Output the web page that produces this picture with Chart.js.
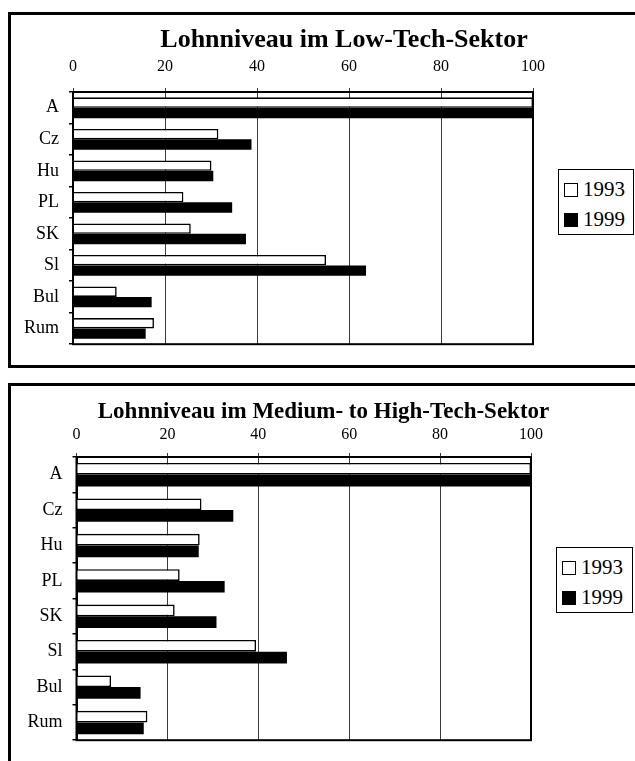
<!DOCTYPE html>
<html>
<head>
<meta charset="utf-8">
<script src="https://cdn.jsdelivr.net/npm/chart.js@4"></script>
<style>
  html, body { margin: 0; padding: 0; background: #fff; }
  body { width: 635px; height: 761px; overflow: hidden; position: relative; font-family: 'Liberation Serif', serif; }
  .frame { position: absolute; border: 3px solid #000; box-sizing: border-box; }
  .plot { position: absolute; }
  .legend { position: absolute; border: 1.5px solid #000; box-sizing: border-box; background: #fff; padding: 4px 0 0 5px; }
  .legend div { height: 30px; line-height: 30px; font-size: 21px; color: #000; white-space: nowrap; }
  .legend span { display: inline-block; width: 14px; height: 14px; box-sizing: border-box; border: 1.5px solid #000; margin-right: 5px; vertical-align: -1px; }
</style>
</head>
<body>
<div class="frame" style="left:8px;top:12px;width:700px;height:356px;"></div>
<div class="frame" style="left:8px;top:383px;width:700px;height:500px;"></div>
<div class="plot" style="left:12px;top:15px;width:664px;height:350px;"><canvas id="lowChart"></canvas></div>
<div class="plot" style="left:12px;top:386px;width:623px;height:375px;"><canvas id="highChart"></canvas></div>
<div class="legend" id="lowLegend" style="left:558px;top:169px;width:76px;height:66px;"></div>
<div class="legend" id="highLegend" style="left:556px;top:547px;width:77px;height:66px;"></div>
<script>
// Laender und Jahre
const countries = ['A', 'Cz', 'Hu', 'PL', 'SK', 'Sl', 'Bul', 'Rum'];
const years = ['1993', '1999'];
const xTicks = [0, 20, 40, 60, 80, 100];

// Lohnniveau im Low-Tech-Sektor (A = 100)
const low1993 = [100, 31.6, 30.1, 24.0, 25.6, 55.0, 9.5, 17.6];
const low1999 = [100, 38.8, 30.5, 34.6, 37.6, 63.7, 17.1, 15.8];

// Lohnniveau im Medium- to High-Tech-Sektor (A = 100)
const high1993 = [100, 27.5, 27.1, 22.7, 21.6, 39.5, 7.6, 15.6];
const high1999 = [100, 34.5, 26.9, 32.6, 30.8, 46.3, 14.1, 14.8];

const FONT = "'Liberation Serif', 'Times New Roman', serif";
const fills = ['#ffffff', '#000000'];

// Rahmen um die Zeichenflaeche
const plotBorder = {
  id: 'plotBorder',
  afterDatasetsDraw(chart) {
    const a = chart.chartArea;
    const ctx = chart.ctx;
    ctx.save();
    ctx.strokeStyle = '#000';
    ctx.lineWidth = 2;
    ctx.strokeRect(a.left, a.top, a.right - a.left, a.bottom - a.top);
    ctx.restore();
  }
};

function makeChart(id, title, v1993, v1999, opts) {
  const ctx = document.getElementById(id);
  return new Chart(ctx, {
    type: 'bar',
    data: {
      labels: countries,
      datasets: [v1993, v1999].map((data, i) => ({
        label: years[i],
        data: data,
        backgroundColor: fills[i],
        borderColor: '#000',
        borderWidth: i === 0 ? 1.6 : 0,
        borderSkipped: 'start',
        barPercentage: 1.0,
        categoryPercentage: 0.66,
      })),
    },
    options: {
      indexAxis: 'y',
      animation: false,
      responsive: true,
      maintainAspectRatio: false,
      layout: { padding: { top: 0, left: 0, right: 0, bottom: opts.padBottom } },
      plugins: {
        legend: { display: false },
        tooltip: { enabled: false },
        title: {
          display: true,
          text: title,
          color: '#000',
          font: { family: FONT, size: opts.titleSize, weight: 'bold', lineHeight: 1.2 },
          padding: { top: opts.titleTop, bottom: 0 },
        },
      },
      scales: {
        x: {
          position: 'top',
          min: 0,
          max: 100,
          afterBuildTicks: s => { s.ticks = xTicks.map(v => ({ value: v })); },
          afterFit: s => { s.height = opts.xHeight; },
          ticks: { color: '#000', font: { family: FONT, size: 16 }, padding: opts.tickPad, maxRotation: 0 },
          grid: { color: '#3a3a3a', lineWidth: 1, tickLength: 4, drawTicks: true },
          border: { color: '#000', width: 2 },
        },
        y: {
          position: 'left',
          afterFit: s => { s.width = opts.yWidth; },
          ticks: { color: '#000', font: { family: FONT, size: 18 }, padding: 10 },
          grid: { drawOnChartArea: false, drawTicks: true, tickLength: 4, color: '#000', lineWidth: 1.5 },
          border: { color: '#000', width: 2 },
        },
        // Platzhalter rechts fuer die Legende
        yRight: {
          type: 'category',
          position: 'right',
          labels: countries,
          afterFit: s => { s.width = opts.rightSpace; },
          ticks: { display: false },
          grid: { display: false },
          border: { display: false },
        },
      },
    },
    plugins: [plotBorder],
  });
}

function makeLegend(id) {
  const el = document.getElementById(id);
  years.forEach((y, i) => {
    const row = document.createElement('div');
    const box = document.createElement('span');
    box.style.background = fills[i];
    row.appendChild(box);
    row.appendChild(document.createTextNode(y));
    el.appendChild(row);
  });
}

makeChart('lowChart', 'Lohnniveau im Low-Tech-Sektor', low1993, low1999,
  { titleSize: 26, titleTop: 9.4, xHeight: 36.4, tickPad: 12, yWidth: 61, rightSpace: 143, padBottom: 12 });
makeChart('highChart', 'Lohnniveau im Medium- to High-Tech-Sektor', high1993, high1999,
  { titleSize: 23, titleTop: 12, xHeight: 31.4, tickPad: 9, yWidth: 64.5, rightSpace: 104, padBottom: 9 });
makeLegend('lowLegend');
makeLegend('highLegend');
</script>
</body>
</html>
